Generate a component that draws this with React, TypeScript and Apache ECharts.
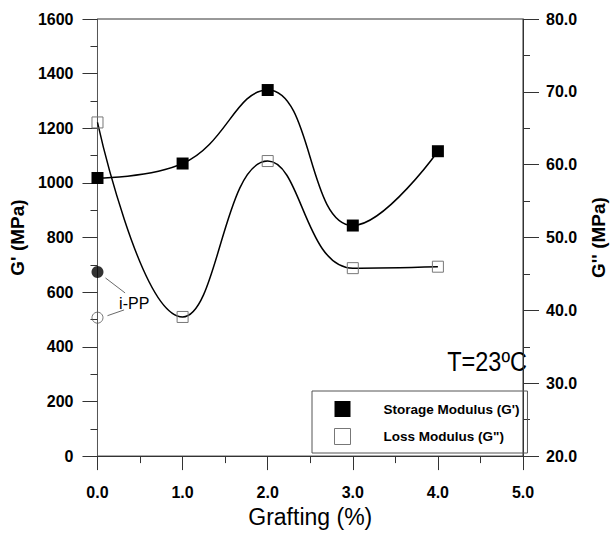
import React, { useEffect, useRef } from "react";
import * as echarts from "echarts";

const grafting = [0, 1, 2, 3, 4];
const storageModulus = [1018, 1071, 1340, 844, 1116];
const lossModulus = [65.8, 39.1, 60.5, 45.8, 46.0];
const iPPStorage = [674];
const iPPLoss = [39.0];
const iPPLabelAt = [0.43, 557];
const storageName = "Storage Modulus (G')";
const lossName = 'Loss Modulus (G")';
const tempLabel = "T=23ºC";

const FONT = "Arial, 'Liberation Sans', sans-serif";

export default function App() {
  const ref = useRef<HTMLDivElement>(null);
  useEffect(() => {
    if (!ref.current) return;
    const chart = echarts.init(ref.current, undefined, { renderer: "svg" });
    const option: any = {
      animation: false,
      backgroundColor: "#fff",
      textStyle: { fontFamily: FONT },
      grid: { left: 92, right: 80, top: 19, bottom: 70, show: true, borderColor: "#333", borderWidth: 1 },
      legend: {
        left: 312,
        top: 391,
        orient: "vertical",
        borderColor: "#555",
        borderWidth: 1,
        padding: [10, 8, 8, 22],
        itemWidth: 16,
        itemHeight: 16,
        itemGap: 11,
        textStyle: { fontFamily: FONT, fontSize: 13.5, fontWeight: "bold", color: "#000", padding: [0, 0, 0, 28] },
        data: [
          { name: storageName, icon: "rect", itemStyle: { color: "#000", borderColor: "#000", borderWidth: 0 } },
          { name: lossName, icon: "rect", itemStyle: { color: "#fff", borderColor: "#777", borderWidth: 1 } },
        ],
      },
      xAxis: {
        type: "value",
        min: 0,
        max: 5,
        interval: 1,
        name: "Grafting (%)",
        nameLocation: "middle",
        nameGap: 45,
        nameTextStyle: { fontFamily: FONT, fontSize: 23, color: "#000" },
        axisLine: { show: true, lineStyle: { color: "#333" } },
        axisTick: { show: true, length: 14, inside: false, lineStyle: { color: "#333" } },
        minorTick: { show: true, splitNumber: 2, length: 7, lineStyle: { color: "#333" } },
        splitLine: { show: false },
        axisLabel: {
          fontFamily: FONT,
          fontSize: 16,
          fontWeight: "bold",
          color: "#000",
          margin: 28,
          formatter: (v: number) => v.toFixed(1),
        },
      },
      yAxis: [
        {
          type: "value",
          min: 0,
          max: 1600,
          interval: 200,
          position: "left",
          name: "G' (MPa)",
          nameLocation: "middle",
          nameRotate: 90,
          nameGap: 65,
          nameTextStyle: { fontFamily: FONT, fontSize: 19, fontWeight: "bold", color: "#000" },
          axisLine: { show: true, lineStyle: { color: "#555" } },
          axisTick: { show: true, length: 15, lineStyle: { color: "#333" } },
          minorTick: { show: true, splitNumber: 2, length: 7, lineStyle: { color: "#333" } },
          splitLine: { show: false },
          axisLabel: {
            fontFamily: FONT,
            fontSize: 16,
            fontWeight: "bold",
            color: "#000",
            margin: 24,
            formatter: (v: number) => String(v),
          },
        },
        {
          type: "value",
          min: 20,
          max: 80,
          interval: 10,
          position: "right",
          name: "G'' (MPa)",
          nameLocation: "middle",
          nameRotate: 90,
          nameGap: 66,
          nameTextStyle: { fontFamily: FONT, fontSize: 19, fontWeight: "bold", color: "#000" },
          axisLine: { show: true, lineStyle: { color: "#333" } },
          axisTick: { show: true, length: 16, lineStyle: { color: "#333" } },
          minorTick: { show: true, splitNumber: 2, length: 7, lineStyle: { color: "#333" } },
          splitLine: { show: false },
          axisLabel: {
            fontFamily: FONT,
            fontSize: 16,
            fontWeight: "bold",
            color: "#000",
            margin: 23,
            formatter: (v: number) => v.toFixed(1),
          },
        },
      ],
      series: [
        {
          name: storageName,
          type: "line",
          yAxisIndex: 0,
          data: grafting.map((g, i) => [g, storageModulus[i]]),
          smooth: 0.45,
          symbol: "rect",
          symbolSize: 12,
          itemStyle: { color: "#000" },
          lineStyle: { color: "#000", width: 1.5 },
          z: 3,
        },
        {
          name: lossName,
          type: "line",
          yAxisIndex: 1,
          data: grafting.map((g, i) => [g, lossModulus[i]]),
          smooth: 0.45,
          symbol: "rect",
          symbolSize: 11,
          itemStyle: { color: "rgba(255,255,255,0)", borderColor: "#777", borderWidth: 1 },
          lineStyle: { color: "#000", width: 1.5 },
          z: 3,
        },
        {
          name: "i-PP G'",
          type: "scatter",
          yAxisIndex: 0,
          data: iPPStorage.map((v) => [0, v]),
          symbol: "circle",
          symbolSize: 12,
          itemStyle: { color: "#000" },
          z: 4,
        },
        {
          name: 'i-PP G"',
          type: "scatter",
          yAxisIndex: 1,
          data: iPPLoss.map((v) => [0, v]),
          symbol: "circle",
          symbolSize: 11,
          itemStyle: { color: "rgba(255,255,255,0)", borderColor: "#555", borderWidth: 1 },
          z: 4,
        },
      ],
    };
    chart.setOption(option);

    const pS = chart.convertToPixel({ xAxisIndex: 0, yAxisIndex: 0 }, [0, iPPStorage[0]]) as number[];
    const pL = chart.convertToPixel({ xAxisIndex: 0, yAxisIndex: 1 }, [0, iPPLoss[0]]) as number[];
    const pT = chart.convertToPixel({ xAxisIndex: 0, yAxisIndex: 0 }, iPPLabelAt) as number[];
    chart.setOption({
      graphic: [
        {
          type: "line",
          shape: { x1: pS[0] + 8, y1: pS[1] + 6, x2: pT[0] - 9, y2: pT[1] - 11 },
          style: { stroke: "#444", lineWidth: 0.8 },
        },
        {
          type: "line",
          shape: { x1: pL[0] + 10, y1: pL[1] - 2, x2: pT[0] - 10, y2: pT[1] + 6 },
          style: { stroke: "#444", lineWidth: 0.8 },
        },
        {
          type: "text",
          x: pT[0] - 15,
          y: pT[1],
          style: { text: "i-PP", fontSize: 16, fontFamily: FONT, fill: "#000", textVerticalAlign: "middle" },
        },
        {
          type: "text",
          x: 527,
          y: 361,
          scaleX: 0.84,
          style: {
            text: tempLabel,
            fontSize: 28,
            fontFamily: FONT,
            fill: "#000",
            textAlign: "right",
            textVerticalAlign: "middle",
          },
        },
      ],
    });

    return () => chart.dispose();
  }, []);
  return <div ref={ref} style={{ position: "fixed", left: 0, top: 0, width: 616, height: 533 }} />;
}
